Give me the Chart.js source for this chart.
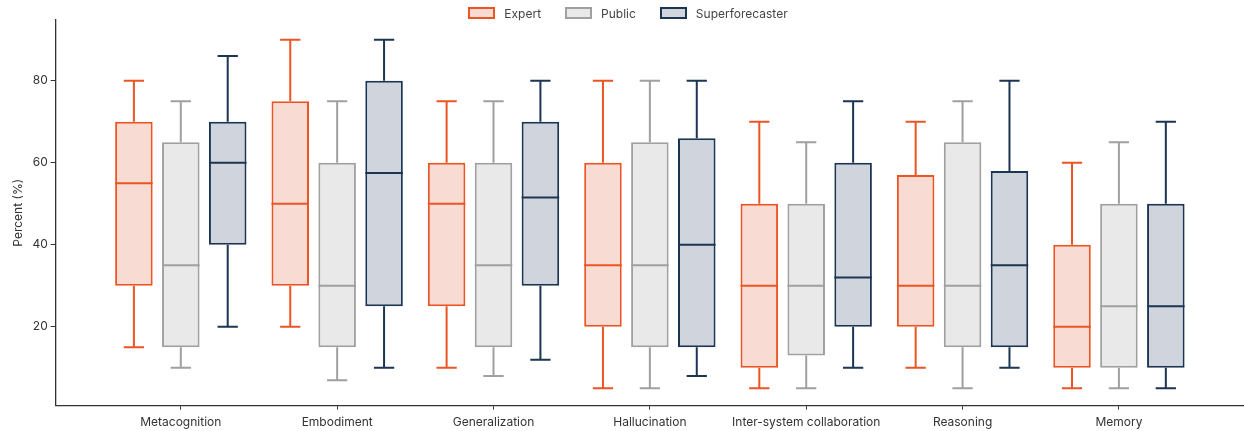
<!DOCTYPE html>
<html>
<head>
<meta charset="utf-8">
<script src="https://cdn.jsdelivr.net/npm/chart.js@4.4.1/dist/chart.umd.min.js"></script>
<style>
  html, body { margin: 0; padding: 0; background: #fff; }
  #legend {
    position: absolute; left: 0; top: 0; width: 1244px;
    height: 26px; display: flex; justify-content: center; align-items: center;
    padding-left: 12px; box-sizing: border-box;
    font: 12px Inter, 'Liberation Sans', sans-serif; color: #444;
  }
  .item { display: flex; align-items: center; margin: 0 12px; }
  .swatch { width: 23px; height: 8px; border: 2px solid; margin-right: 9px; }
  #wrap { width: 1244px; height: 431px; }
</style>
</head>
<body>
<div id="wrap"><canvas id="boxChart"></canvas></div>
<div id="legend"></div>
<script>
// categories along the x axis
const categories = ['Metacognition', 'Embodiment', 'Generalization', 'Hallucination',
    'Inter-system collaboration', 'Reasoning', 'Memory'];
const yTicks = [20, 40, 60, 80];

// box stats per group: [whisker low, q1, median, q3, whisker high]
const expertStats = [
    [15, 30, 55, 70, 80],
    [20, 30, 50, 75, 90],
    [10, 25, 50, 60, 75],
    [5, 20, 35, 60, 80],
    [5, 10, 30, 50, 70],
    [10, 20, 30, 57, 70],
    [5, 10, 20, 40, 60]
];
const publicStats = [
    [10, 15, 35, 65, 75],
    [7, 15, 30, 60, 75],
    [8, 15, 35, 60, 75],
    [5, 15, 35, 65, 80],
    [5, 13, 30, 50, 65],
    [5, 15, 30, 65, 75],
    [5, 10, 25, 50, 65]
];
const superStats = [
    [20, 40, 60, 70, 86],
    [10, 25, 57.5, 80, 90],
    [12, 30, 51.5, 70, 80],
    [8, 15, 40, 66, 80],
    [10, 20, 32, 60, 75],
    [10, 15, 35, 58, 80],
    [5, 10, 25, 50, 70]
];

const textFont = "Inter, 'Liberation Sans', sans-serif";

function makeSet(label, stats, stroke, fill) {
    return {
        label: label,
        stats: stats,
        data: stats.map((s, i) => ({ x: i, y: [s[1], s[3]] })),
        backgroundColor: fill,
        borderColor: stroke,
        borderWidth: 2,
        borderSkipped: false,
        barPercentage: 0.8,
        categoryPercentage: 0.9
    };
}

// whiskers, caps and median lines, placed with the chart scales
const boxPlugin = {
    id: 'boxParts',
    afterDatasetsDraw(chart) {
        const ctx = chart.ctx;
        const yScale = chart.scales.y;
        chart.data.datasets.forEach((ds, di) => {
            const meta = chart.getDatasetMeta(di);
            if (meta.hidden) return;
            ctx.save();
            ctx.strokeStyle = ds.borderColor;
            ctx.lineWidth = 2;
            meta.data.forEach((bar, i) => {
                const s = ds.stats[i];
                const half = bar.width / 2;
                const cap = bar.width * 0.27;
                const yMin = yScale.getPixelForValue(s[0]);
                const yQ1 = yScale.getPixelForValue(s[1]);
                const yMed = yScale.getPixelForValue(s[2]);
                const yQ3 = yScale.getPixelForValue(s[3]);
                const yMax = yScale.getPixelForValue(s[4]);
                ctx.beginPath();
                ctx.moveTo(bar.x, yQ1); ctx.lineTo(bar.x, yMin);
                ctx.moveTo(bar.x - cap, yMin); ctx.lineTo(bar.x + cap, yMin);
                ctx.moveTo(bar.x, yQ3); ctx.lineTo(bar.x, yMax);
                ctx.moveTo(bar.x - cap, yMax); ctx.lineTo(bar.x + cap, yMax);
                ctx.moveTo(bar.x - half, yMed); ctx.lineTo(bar.x + half, yMed);
                ctx.stroke();
            });
            ctx.restore();
        });
    }
};

const ctx = document.getElementById('boxChart').getContext('2d');
const boxChart = new Chart(ctx, {
    type: 'bar',
    data: {
        datasets: [
            makeSet('Expert', expertStats, 'rgb(236, 84, 36)', 'rgb(248, 220, 211)'),
            makeSet('Public', publicStats, 'rgb(160, 160, 160)', 'rgb(233, 233, 233)'),
            makeSet('Superforecaster', superStats, 'rgb(27, 53, 82)', 'rgb(208, 213, 221)')
        ]
    },
    options: {
        responsive: true,
        maintainAspectRatio: false,
        animation: false,
        layout: { padding: { top: 20, right: 0, bottom: -5, left: 11 } },
        plugins: {
            legend: { display: false },
            tooltip: { enabled: false }
        },
        scales: {
            x: {
                type: 'linear',
                min: -0.8,
                max: 6.8,
                offset: false,
                afterBuildTicks: (scale) => {
                    scale.ticks = categories.map((c, i) => ({ value: i }));
                },
                ticks: {
                    callback: (v) => categories[v],
                    color: '#333',
                    padding: 6,
                    maxRotation: 0,
                    autoSkip: false,
                    font: { family: textFont, size: 12 }
                },
                grid: { offset: false, drawOnChartArea: false, tickLength: 4, color: '#333', tickWidth: 1 },
                border: { color: '#333', width: 1.3 }
            },
            y: {
                min: 0.8,
                max: 94.8,
                afterBuildTicks: (scale) => {
                    scale.ticks = yTicks.map(v => ({ value: v }));
                },
                ticks: {
                    color: '#333',
                    padding: 3,
                    font: { family: textFont, size: 12 }
                },
                grid: { drawOnChartArea: false, tickLength: 5, color: '#333', tickWidth: 1 },
                border: { color: '#333', width: 1.3 },
                title: {
                    display: true,
                    text: 'Percent (%)',
                    color: '#333',
                    padding: { top: 0, bottom: 4 },
                    font: { family: textFont, size: 12 }
                }
            }
        }
    },
    plugins: [boxPlugin]
});

// legend built from the datasets
const legendEl = document.getElementById('legend');
boxChart.data.datasets.forEach(ds => {
    const item = document.createElement('div');
    item.className = 'item';
    const sw = document.createElement('span');
    sw.className = 'swatch';
    sw.style.borderColor = ds.borderColor;
    sw.style.background = ds.backgroundColor;
    const txt = document.createElement('span');
    txt.textContent = ds.label;
    item.appendChild(sw);
    item.appendChild(txt);
    legendEl.appendChild(item);
});
</script>
</body>
</html>
